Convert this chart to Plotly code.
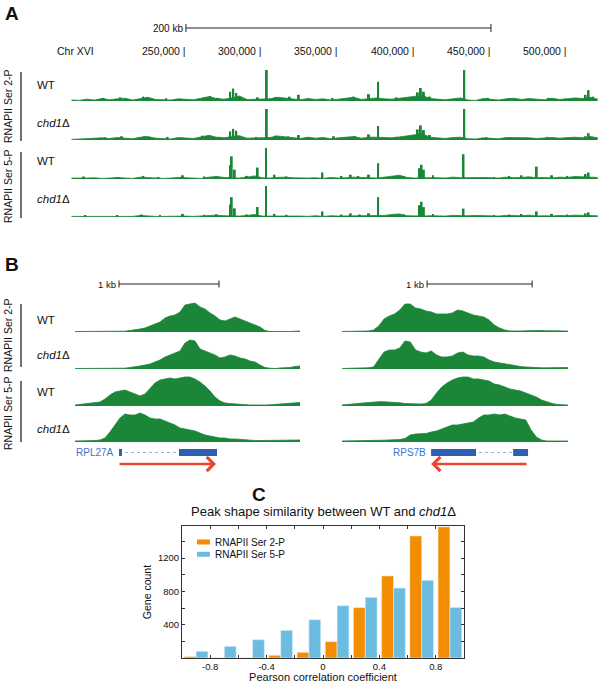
import plotly.graph_objects as go

W, H = 600, 683
FONT = "Liberation Sans, Arial, Helvetica, sans-serif"
GREEN = "#1c8638"
GENE_BLUE = "#2d60b5"
TEXT_BLUE = "#3f74c9"
INTRON_BLUE = "#8fb3e6"
RED = "#e8462e"
ORANGE = "#f28c00"
SKY = "#6cbce2"

# ---------------- panel A: Chr XVI overview (positions in kb) ----------------
a_bin_kb = list(range(175, 525, 5))
a_tick_kb = [250, 300, 350, 400, 450, 500]
a_tick_text = ["250,000", "300,000", "350,000", "400,000", "450,000", "500,000"]
a_scale_kb = [250, 450]

ser2_wt_bg = [3, 2, 6, 3, 8, 4, 7, 9, 3, 8, 12, 5, 4, 3, 7, 5, 4, 9, 14, 8, 6,
              10, 16, 5, 6, 8, 7, 12, 9, 6, 4, 8, 5, 7, 3, 6, 9, 12, 5, 8, 10,
              7, 6, 9, 12, 14, 18, 8, 6, 4, 7, 10, 3, 2, 8, 6, 3, 7, 9, 5, 8,
              6, 4, 9, 5, 7, 10, 8, 12, 6]
ser2_wt_spike_kb = [196, 207, 222, 237, 262, 266, 271, 279, 281, 283, 297, 303, 309, 318, 324,
                    346, 360, 370, 376, 388, 402, 404, 406, 410, 432.5, 448, 462, 488, 499, 512, 514, 517]
ser2_wt_spike_h = [10, 12, 14, 9, 12, 16, 10, 30, 40, 26, 12, 100, 12, 14, 20,
                   10, 14, 22, 62, 12, 28, 42, 30, 14, 100, 10, 9, 10, 8, 20, 35, 14]

ser2_chd1_bg = [2, 3, 5, 4, 7, 5, 8, 6, 4, 9, 11, 6, 5, 3, 8, 6, 5, 10, 15, 9, 7,
                11, 14, 6, 7, 9, 8, 13, 10, 7, 5, 9, 6, 8, 4, 7, 10, 11, 6, 9, 9,
                8, 7, 10, 13, 15, 20, 9, 7, 5, 8, 9, 4, 3, 7, 5, 4, 8, 8, 6, 7,
                5, 6, 8, 6, 8, 9, 7, 11, 7]
ser2_chd1_spike_kb = [197, 208, 223, 238, 261, 266, 272, 279, 281, 283, 296, 303, 309, 317, 324,
                      347, 361, 370, 376, 388, 402, 404, 406, 410, 432.5, 447, 463, 487, 500, 512, 514, 517]
ser2_chd1_spike_h = [9, 12, 12, 10, 14, 14, 10, 28, 36, 30, 10, 100, 14, 12, 16,
                     12, 12, 18, 45, 10, 34, 47, 32, 16, 100, 9, 8, 10, 8, 12, 22, 10]

ser5_wt_bg = [3, 2, 3, 4, 2, 3, 5, 3, 2, 6, 4, 3, 2, 3, 5, 4, 3, 2, 6, 8, 5,
              4, 3, 6, 10, 4, 3, 5, 6, 4, 3, 3, 4, 2, 5, 3, 4, 6, 5, 4, 3,
              6, 9, 12, 5, 3, 4, 5, 4, 3, 6, 4, 5, 6, 5, 4, 3, 6, 4, 5, 7,
              4, 5, 3, 6, 5, 8, 7, 6, 5]
ser5_wt_spike_kb = [183, 205, 222, 232, 248, 262, 270, 279, 280, 282, 290, 297, 302.5, 308, 316,
                    339.5, 352, 358, 363, 370, 376, 393, 403, 404.5, 406, 412, 432, 452, 462, 470,
                    480, 490, 500, 512, 514]
ser5_wt_spike_h = [8, 6, 10, 6, 12, 8, 10, 45, 73, 30, 10, 37, 100, 14, 8,
                   21, 10, 14, 10, 14, 51, 10, 35, 46, 30, 12, 80, 6, 10, 12,
                   40, 12, 10, 16, 21]

ser5_chd1_bg = [2, 2, 2, 3, 2, 4, 3, 2, 2, 5, 3, 2, 2, 3, 4, 3, 2, 3, 5, 6, 4,
                3, 3, 5, 8, 3, 3, 4, 5, 3, 3, 2, 4, 2, 4, 3, 3, 5, 4, 3, 3,
                5, 8, 10, 4, 3, 3, 4, 3, 3, 5, 4, 4, 5, 4, 3, 3, 5, 4, 4, 6,
                3, 4, 3, 5, 4, 6, 5, 5, 4]
ser5_chd1_spike_kb = [184, 205, 221, 233, 248, 262, 270, 279, 280, 282, 290, 297, 302.5, 308, 316,
                      339.5, 352, 358, 364, 370, 376, 393, 403, 404.5, 406, 412, 432, 452, 462, 470,
                      480, 490, 500, 512, 514]
ser5_chd1_spike_h = [6, 6, 8, 6, 10, 7, 9, 40, 64, 28, 8, 32, 100, 10, 7,
                     18, 8, 12, 8, 12, 64, 8, 38, 49, 32, 10, 27, 6, 8, 10,
                     18, 10, 8, 12, 15]

# ---------------- panel B: two genes (positions in bp) ----------------
b_left_bp = list(range(0, 2300, 50))
b_right_bp = list(range(0, 2200, 50))
b_left_scale_bp = [440, 1440]
b_right_scale_bp = [810, 1810]

rpl27a_wt_ser2 = [0.5, 0.5, 0.5, 0.5, 0.5, 0.5, 0.5, 0.5, 0.5, 0.5, 0.8, 1.5, 2, 3, 4, 6, 8, 10, 14, 16,
                  17, 20, 27, 28, 29, 25, 23, 19, 16, 12, 11, 13, 15, 13, 11, 9, 7, 5, 1.5, 0.5,
                  0.5, 0.8, 0.5, 0.5, 1, 1]
rpl27a_chd1_ser2 = [0.5, 0.5, 0.8, 0.5, 0.5, 0.5, 0.8, 0.5, 0.5, 0.5, 0.8, 1.5, 2, 3, 4, 5, 7, 9, 12, 14,
                    16, 18, 26, 29, 28, 20, 18, 16, 14, 11, 12, 14, 13, 11, 10, 8, 7, 4, 1.5, 0.8,
                    0.5, 1, 1, 1.5, 2.5, 3]
rpl27a_wt_ser5 = [1, 1.5, 2, 2.5, 3, 4, 7, 11, 14, 15, 16, 14, 12, 10, 12, 18, 23, 26, 27, 28,
                  27, 28, 29, 29, 27, 24, 20, 15, 9, 5, 3, 2.5, 2, 1.5, 1.2, 1, 1, 0.8, 1, 1.2,
                  1.5, 1.8, 2, 2.5, 3, 3.5]
rpl27a_chd1_ser5 = [1, 1, 1, 1, 1.5, 2, 4, 10, 17, 24, 28, 27, 27, 29, 27, 24, 23, 23, 21, 19,
                    17, 14, 13, 12, 11, 9, 7, 6, 5, 4, 4, 3, 3, 2.5, 2, 2, 1.5, 1.5, 1.5, 1.5,
                    2, 2, 2, 2, 2, 2]

rps7b_wt_ser2 = [0.5, 0.5, 0.8, 0.8, 1, 1, 2, 6, 13, 16, 18, 22, 28, 28, 24, 23, 21, 20, 18, 18,
                 18, 19, 22, 21, 19, 17, 16, 15, 12, 7, 4, 2, 1, 0.8, 1, 1.2, 1.5, 1.2, 1.5, 1.2,
                 1.5, 1.2, 1, 1]
rps7b_chd1_ser2 = [0.5, 0.5, 0.8, 0.8, 1, 1.2, 2, 9, 17, 19, 19, 21, 28, 27, 19, 17, 16, 18, 14, 12,
                   12, 13, 16, 17, 14, 13, 13, 12, 9, 7, 6, 5, 4, 3, 2.5, 2, 1.5, 1.3, 1.2, 1.2,
                   1.3, 1.5, 1.5, 1.5]
rps7b_wt_ser5 = [1, 1.3, 1.8, 2.5, 3, 3.5, 4, 4.3, 4.2, 4, 3.7, 3.2, 2.5, 2.2, 2, 2, 2.5, 6, 13, 19,
                 23, 26, 28, 29, 29, 27, 27, 26, 25, 22, 21, 19, 17, 16, 15, 13, 11, 9, 6, 4,
                 2.5, 1.5, 1.2, 1]
rps7b_chd1_ser5 = [1, 1, 1.2, 1, 1.2, 1, 1.5, 1.7, 1.8, 2, 2.3, 2.5, 3.5, 7, 8, 8, 8.5, 10, 11, 13,
                   15, 17, 17, 18, 19, 20, 24, 27, 27, 28, 27, 28, 26, 24, 23, 22, 12, 5, 2, 1,
                   1, 1, 1, 1]

rpl27a_exons = [[440, 470], [1040, 1420]]
rpl27a_arrow = [430, 1410]
rps7b_exons = [[848, 1276], [1629, 1771]]
rps7b_arrow = [1771, 848]

# ---------------- panel C: histogram ----------------
series_names = ["RNAPII Ser 2-P", "RNAPII Ser 5-P"]
corr_bins = [-0.9, -0.7, -0.5, -0.3, -0.1, 0.1, 0.3, 0.5, 0.7, 0.9]
ser2_counts = [16, 0, 0, 32, 68, 196, 604, 985, 1465, 1574]
ser5_counts = [80, 140, 220, 332, 460, 628, 728, 840, 933, 608]
corr_ticks = [-0.8, -0.6, -0.4, -0.2, 0, 0.2, 0.4, 0.6, 0.8]
corr_tick_text = ["-0.8", "", "-0.4", "", "0", "", "0.4", "", "0.8"]
count_ticks = [200, 400, 600, 800, 1000, 1200, 1400]
count_tick_text = ["", "400", "", "800", "", "1200", ""]


def py(p):
    return 1 - p / H


def ydom(base, height):
    return [py(base), py(base - height)]


fig = go.Figure()
axes = {}
annots = []
shapes = []


def label(x, y, text, size=11.5, color="#111", **kw):
    kw.setdefault("yanchor", "middle")
    annots.append(dict(x=x / W, y=py(y), xref="paper", yref="paper", text=text, showarrow=False,
                       font=dict(family=FONT, size=size, color=color), **kw))


def add_track(xid, yn, xs, ys, base, height, ymax):
    yid = "y" if yn == 1 else f"y{yn}"
    fig.add_trace(go.Scatter(x=xs, y=ys, xaxis=xid, yaxis=yid, mode="lines",
                             line=dict(color=GREEN, width=0.8), fill="tozeroy", fillcolor=GREEN,
                             hoverinfo="skip", showlegend=False))
    axes["yaxis" if yn == 1 else f"yaxis{yn}"] = dict(domain=ydom(base, height), range=[0, ymax],
                                                      visible=False, anchor=xid, fixedrange=True)
    return yid


# ----- panel A -----
axes["xaxis"] = dict(domain=[67 / W, 1], range=[172, 521.5], visible=False, anchor="y")
a_tracks = [
    (ser2_wt_bg, ser2_wt_spike_kb, ser2_wt_spike_h, 101, 85, "WT"),
    (ser2_chd1_bg, ser2_chd1_spike_kb, ser2_chd1_spike_h, 140, 123, "<i>chd1</i>Δ"),
    (ser5_wt_bg, ser5_wt_spike_kb, ser5_wt_spike_h, 179, 161, "WT"),
    (ser5_chd1_bg, ser5_chd1_spike_kb, ser5_chd1_spike_h, 217, 199, "<i>chd1</i>Δ"),
]
for i, (bg, skb, sh, base, ly, name) in enumerate(a_tracks):
    yid = add_track("x", i + 1, a_bin_kb, bg, base, 31, 100)
    fig.add_trace(go.Bar(x=skb, y=sh, xaxis="x", yaxis=yid, width=1.3, offset=-0.65,
                         marker=dict(color=GREEN, line_width=0), hoverinfo="skip", showlegend=False))
    label(35, ly, name, xanchor="left")

# scale bar and coordinates
shapes.append(dict(type="line", xref="x", yref="paper", x0=a_scale_kb[0], x1=a_scale_kb[1],
                   y0=py(28), y1=py(28), line=dict(color="#222", width=1)))
for v in a_scale_kb:
    shapes.append(dict(type="line", xref="x", yref="paper", x0=v, x1=v, y0=py(24), y1=py(32),
                       line=dict(color="#222", width=1)))
annots.append(dict(x=a_scale_kb[0], y=py(28), xref="x", yref="paper", text="200 kb", showarrow=False,
                   xanchor="right", yanchor="middle", xshift=-1,
                   font=dict(family=FONT, size=10, color="#111")))
label(55, 51, "Chr XVI", size=10.5, xanchor="left")
for v, t in zip(a_tick_kb, a_tick_text):
    annots.append(dict(x=v, y=py(51), xref="x", yref="paper", text=t + " |", showarrow=False,
                       xanchor="right", yanchor="middle", xshift=2,
                       font=dict(family=FONT, size=10.5, color="#111")))

# ----- panel B -----
axes["xaxis2"] = dict(domain=[75 / W, 300 / W], range=[0, 2250], visible=False, anchor="y5")
axes["xaxis3"] = dict(domain=[342 / W, 571 / W], range=[0, 2180], visible=False, anchor="y9")
b_bases = [332, 369, 406, 442]
b_labels = [(320, "WT"), (355, "<i>chd1</i>Δ"), (392, "WT"), (429, "<i>chd1</i>Δ")]
left_profiles = [rpl27a_wt_ser2, rpl27a_chd1_ser2, rpl27a_wt_ser5, rpl27a_chd1_ser5]
right_profiles = [rps7b_wt_ser2, rps7b_chd1_ser2, rps7b_wt_ser5, rps7b_chd1_ser5]
for i in range(4):
    add_track("x2", 5 + i, b_left_bp, left_profiles[i], b_bases[i], 30, 30)
    add_track("x3", 9 + i, b_right_bp, right_profiles[i], b_bases[i], 30, 30)
    label(35, b_labels[i][0], b_labels[i][1], xanchor="left")

for xid, sc in (("x2", b_left_scale_bp), ("x3", b_right_scale_bp)):
    shapes.append(dict(type="line", xref=xid, yref="paper", x0=sc[0], x1=sc[1], y0=py(284), y1=py(284),
                       line=dict(color="#222", width=1)))
    for v in sc:
        shapes.append(dict(type="line", xref=xid, yref="paper", x0=v, x1=v, y0=py(280.5), y1=py(287.5),
                           line=dict(color="#222", width=1)))
    annots.append(dict(x=sc[0], y=py(284), xref=xid, yref="paper", text="1 kb", showarrow=False,
                       xanchor="right", yanchor="middle", xshift=-1,
                       font=dict(family=FONT, size=9.5, color="#111")))

# gene models
gene_y = 452.5
for xid, name, exons, arrow in (("x2", "RPL27A", rpl27a_exons, rpl27a_arrow),
                                ("x3", "RPS7B", rps7b_exons, rps7b_arrow)):
    shapes.append(dict(type="line", xref=xid, yref="paper", x0=exons[0][0], x1=exons[-1][1],
                       y0=py(gene_y), y1=py(gene_y), line=dict(color=INTRON_BLUE, width=1, dash="dot")))
    for e0, e1 in exons:
        shapes.append(dict(type="rect", xref=xid, yref="paper", x0=e0, x1=e1, y0=py(gene_y + 3.5),
                           y1=py(gene_y - 3.5), fillcolor=GENE_BLUE, line=dict(width=0)))
    annots.append(dict(x=exons[0][0], y=py(gene_y), xref=xid, yref="paper", text=name, showarrow=False,
                       xanchor="right", yanchor="middle", xshift=-3,
                       font=dict(family=FONT, size=10, color=TEXT_BLUE)))
    annots.append(dict(x=arrow[1], y=py(464), xref=xid, yref="paper", ax=arrow[0], ay=0,
                       axref=xid, ayref="pixel", text="", showarrow=True, arrowhead=4,
                       arrowsize=1.1, arrowwidth=2.5, arrowcolor=RED, standoff=0))

# panel letters and side labels
label(3, 14, "<b>A</b>", size=19, xanchor="left")
label(3, 265, "<b>B</b>", size=19, xanchor="left")
label(250, 494, "<b>C</b>", size=19, xanchor="left")
for top, bot in ((72, 141), (152, 218), (304, 367), (381, 442)):
    shapes.append(dict(type="line", xref="paper", yref="paper", x0=21 / W, x1=21 / W, y0=py(top), y1=py(bot),
                       line=dict(color="#111", width=1.2)))
for mid, txt in ((106, "RNAPII Ser 2-P"), (186, "RNAPII Ser 5-P"), (335, "RNAPII Ser 2-P"), (413, "RNAPII Ser 5-P")):
    label(8, mid, txt, size=10.5, textangle=-90, xanchor="center")

# ----- panel C -----
bar_colors = [ORANGE, SKY]
bar_edges = ["#fbe3c4", "#dff0f9"]
for name, counts, col, edge in zip(series_names, [ser2_counts, ser5_counts], bar_colors, bar_edges):
    fig.add_trace(go.Bar(x=corr_bins, y=counts, name=name, xaxis="x4", yaxis="y13", showlegend=False,
                         marker=dict(color=col, line=dict(color=edge, width=0.6))))
# legend drawn as swatch + text, like the original
for k, (name, col) in enumerate(zip(series_names, bar_colors)):
    ly = 542 + 12.3 * k
    shapes.append(dict(type="rect", xref="paper", yref="paper", x0=197 / W, x1=210 / W,
                       y0=py(ly + 2.5), y1=py(ly - 2.5), fillcolor=col, line=dict(width=0)))
    label(213, ly, name, size=10, xanchor="left")

axis_style = dict(showline=True, linecolor="#333", linewidth=1, mirror="ticks", ticks="inside",
                  ticklen=3, tickcolor="#333", showgrid=False, zeroline=False, fixedrange=True,
                  tickfont=dict(family=FONT, size=9.5, color="#111"), automargin=False)
axes["xaxis4"] = dict(domain=[182 / W, 464 / W], range=[-1.0, 1.0], anchor="y13",
                      tickvals=corr_ticks, ticktext=corr_tick_text,
                      title=dict(text="Pearson correlation coefficient", standoff=1,
                                 font=dict(family=FONT, size=11, color="#111")), **axis_style)
axes["yaxis13"] = dict(domain=[py(658), py(526)], range=[0, 1585], anchor="x4",
                       tickvals=count_ticks, ticktext=count_tick_text,
                       title=dict(text="Gene count", standoff=4,
                                  font=dict(family=FONT, size=10.5, color="#111")), **axis_style)
label(323, 511, "Peak shape similarity between WT and <i>chd1</i>Δ", size=13, xanchor="center")

fig.update_layout(
    width=W, height=H, margin=dict(l=0, r=0, t=0, b=0),
    paper_bgcolor="white", plot_bgcolor="white",
    barmode="group", bargap=0.16, bargroupgap=0,
    showlegend=False,
    annotations=annots, shapes=shapes,
    **axes,
)

fig.write_html("out.html", config={"displayModeBar": False},
               post_script="document.body.style.margin = '0px';")
